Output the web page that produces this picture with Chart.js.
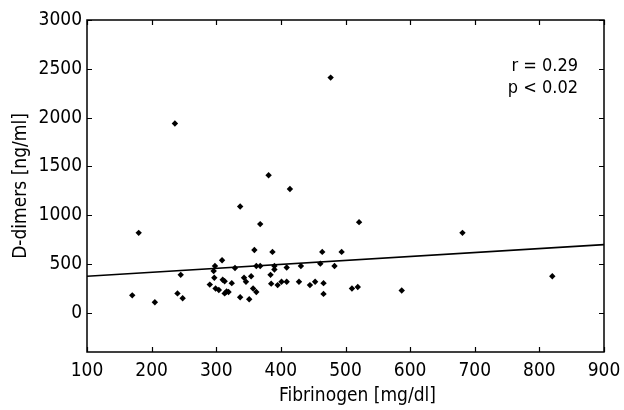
<!DOCTYPE html>
<html>
<head>
<meta charset="utf-8">
<script src="https://cdn.jsdelivr.net/npm/chart.js@4/dist/chart.umd.min.js"></script>
<style>
  html, body { margin: 0; padding: 0; background: #fff; }
  #wrap { width: 624px; height: 410px; position: relative; }
</style>
</head>
<body>
<div id="wrap"><canvas id="c"></canvas></div>
<script>
  // values
  const fibrinogen = [170, 180, 205, 236, 240, 245, 248, 290, 296, 297, 298, 299, 304, 309, 310, 313, 313, 316, 319, 324, 329,
    337, 337, 343, 346, 351, 354, 357, 359, 362, 362, 368, 368, 381, 384, 385, 387, 390, 390, 395, 401, 409, 409, 414,
    428, 431, 445, 453, 461, 464, 466, 466, 477, 483, 494, 510, 519, 521, 587, 681, 820];
  const dimers = [180, 820, 110, 1940, 200, 390, 150, 290, 430, 360, 480, 250, 235, 540, 340, 325, 200, 220, 215, 305, 460,
    1090, 160, 360, 320, 140, 375, 250, 645, 480, 215, 480, 910, 1410, 390, 300, 625, 480, 445, 285, 320, 465, 320, 1270,
    320, 480, 285, 320, 505, 625, 305, 195, 2410, 480, 625, 250, 265, 930, 230, 820, 375];
  const fitX = [100, 900];
  const fitY = [375, 700];
  const xTicks = [100, 200, 300, 400, 500, 600, 700, 800, 900];
  const yTicks = [0, 500, 1000, 1500, 2000, 2500, 3000];
  const statLines = ["r = 0.29", "p < 0.02"];
  const xTitle = "Fibrinogen [mg/dl]";

  const FONT = "'DejaVu Sans Condensed', 'Liberation Sans', Arial, sans-serif";

  const frame = {
    id: "frame",
    afterDraw(chart) {
      const { ctx, chartArea: a, scales } = chart;
      ctx.save();
      ctx.strokeStyle = "#000";
      ctx.lineWidth = 1.5;
      ctx.strokeRect(a.left, a.top, a.right - a.left, a.bottom - a.top);
      ctx.lineWidth = 1.2;
      const t = 5;
      ctx.beginPath();
      xTicks.forEach(v => {
        const px = Math.round(scales.x.getPixelForValue(v)) + 0.5;
        ctx.moveTo(px, a.bottom); ctx.lineTo(px, a.bottom - t);
        ctx.moveTo(px, a.top); ctx.lineTo(px, a.top + t);
      });
      yTicks.forEach(v => {
        const py = Math.round(scales.y.getPixelForValue(v)) + 0.5;
        ctx.moveTo(a.left, py); ctx.lineTo(a.left + t, py);
        ctx.moveTo(a.right, py); ctx.lineTo(a.right - t, py);
      });
      ctx.stroke();
      ctx.fillStyle = "#000";
      ctx.font = "18px " + FONT;
      ctx.textAlign = "right";
      ctx.textBaseline = "middle";
      ctx.fillText(statLines[0], a.right - 26, a.top + 46);
      ctx.fillText(statLines[1], a.right - 26, a.top + 68);
      // x axis title (sits a little right of centre in the original)
      ctx.font = "19px " + FONT;
      ctx.textAlign = "center";
      ctx.textBaseline = "alphabetic";
      ctx.fillText(xTitle, (a.left + a.right) / 2 + 12, 401);
      ctx.restore();
    }
  };

  new Chart(document.getElementById("c"), {
    type: "scatter",
    data: {
      datasets: [
        {
          label: "points",
          data: fibrinogen.map((x, i) => ({ x, y: dimers[i] })),
          pointStyle: "rectRot",
          pointRadius: 3.2,
          backgroundColor: "#000",
          borderColor: "#000",
          borderWidth: 0,
        },
        {
          label: "fit",
          type: "line",
          data: fitX.map((x, i) => ({ x, y: fitY[i] })),
          borderColor: "#000",
          borderWidth: 1.6,
          pointRadius: 0,
          fill: false,
        },
      ],
    },
    options: {
      responsive: true,
      maintainAspectRatio: false,
      animation: false,
      layout: { padding: { top: 20, right: 20, left: 10, bottom: 0 } },
      plugins: { legend: { display: false }, tooltip: { enabled: false } },
      scales: {
        x: {
          type: "linear",
          min: 100, max: 900,
          afterBuildTicks: s => { s.ticks = xTicks.map(v => ({ value: v })); },
          afterFit: s => { s.height = 58; s.paddingLeft = 0; s.paddingRight = 0; },
          grid: { display: false, drawTicks: false },
          border: { display: false },
          ticks: { color: "#000", font: { family: FONT, size: 19 }, padding: 8, maxRotation: 0, callback: v => String(v) },
          title: { display: false },
        },
        y: {
          type: "linear",
          min: -400, max: 3000,
          afterBuildTicks: s => { s.ticks = yTicks.map(v => ({ value: v })); },
          afterFit: s => { s.width = 77; s.paddingTop = 0; s.paddingBottom = 0; },
          grid: { display: false, drawTicks: false },
          border: { display: false },
          ticks: { color: "#000", font: { family: FONT, size: 19 }, padding: 5, callback: v => String(v) },
          title: { display: true, text: "D-dimers [ng/ml]", color: "#000", font: { family: FONT, size: 19 }, padding: { top: 0, bottom: 2 } },
        },
      },
    },
    plugins: [frame],
  });
</script>
</body>
</html>
